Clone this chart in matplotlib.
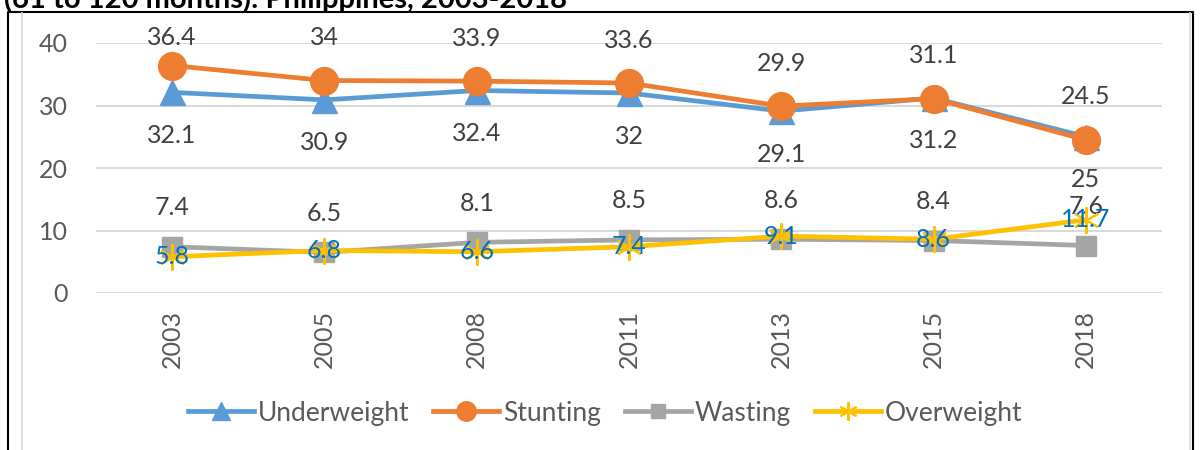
import matplotlib.pyplot as plt
from matplotlib.lines import Line2D

plt.rcParams['font.family'] = ['Lato', 'DejaVu Sans']

years = ['2003', '2005', '2008', '2011', '2013', '2015', '2018']
underweight = [32.1, 30.9, 32.4, 32, 29.1, 31.2, 25]
stunting = [36.4, 34, 33.9, 33.6, 29.9, 31.1, 24.5]
wasting = [7.4, 6.5, 8.1, 8.5, 8.6, 8.4, 7.6]
overweight = [5.8, 6.8, 6.6, 7.4, 9.1, 8.6, 11.7]

W, H = 1203, 450
fig = plt.figure(figsize=(W / 100, H / 100), dpi=100)
ax = fig.add_axes([96 / W, 1 - 293 / H, (1162 - 96) / W, 250 / H])

x = list(range(len(years)))
txt = '#404040'
blue_txt = '#0070C0'

ax.plot(x, underweight, color='#5B9BD5', lw=3.4, marker='^', ms=18, label='Underweight', zorder=3)
ax.plot(x, stunting, color='#ED7D31', lw=3.4, marker='o', ms=20, label='Stunting', zorder=4)
ax.plot(x, wasting, color='#A5A5A5', lw=3.4, marker='s', ms=15, label='Wasting', zorder=3)
ax.plot(x, overweight, color='#FFC000', lw=3.4, marker=(6, 2, 0), ms=19, mew=1.5,
        label='Overweight', zorder=4)

unit = 250 / 40  # pixels per data unit
fs = 18
for i in x:
    ax.text(i, min(stunting[i] + 43 / unit, 40.9), f'{stunting[i]:g}', ha='center', va='center',
            fontsize=fs, color=txt, clip_on=False)
    ax.text(i, underweight[i] - 43 / unit, f'{underweight[i]:g}', ha='center', va='center',
            fontsize=fs, color=txt, clip_on=False)
    ax.text(i, wasting[i] + 39 / unit, f'{wasting[i]:g}', ha='center', va='center',
            fontsize=fs, color=txt, clip_on=False)
    ax.text(i, overweight[i], f'{overweight[i]:g}', ha='center', va='center',
            fontsize=fs, color=blue_txt, clip_on=False, zorder=6)

ax.set_xlim(-0.5, len(years) - 0.5)
ax.set_ylim(0, 40)
ax.set_yticks([0, 10, 20, 30, 40])
ax.set_xticks(x)
ax.set_xticklabels(years, rotation=90)
ax.grid(axis='y', color='#D9D9D9', lw=1.5)
ax.set_axisbelow(True)
for s in ax.spines.values():
    s.set_visible(False)
ax.tick_params(axis='both', length=0, labelsize=18, colors='#595959')
ax.tick_params(axis='y', pad=20)
ax.tick_params(axis='x', pad=12)

fig.legend(loc='center', bbox_to_anchor=(605 / W, 1 - 413 / H), ncol=4, frameon=False,
           fontsize=19, handlelength=2.5, handletextpad=0.15, columnspacing=0.9,
           markerscale=0.7, labelcolor='#595959')

# frame around the chart
fig.add_artist(Line2D([8 / W, 8 / W, 1193 / W, 1193 / W], [0, 1 - 12 / H, 1 - 12 / H, 0],
                      color='black', lw=1.5))
fig.add_artist(Line2D([22 / W, 22 / W], [0, 1 - 13 / H], color='#D9D9D9', lw=1.2))
fig.add_artist(Line2D([1190 / W, 1190 / W], [0, 1 - 13 / H], color='#D9D9D9', lw=1.2))

fig.text(4 / W, 1 - 8 / H, '(61 to 120 months): Philippines, 2003-2018', fontsize=21,
         fontweight='bold', ha='left', va='baseline', color='black')

fig.savefig('out.png', dpi=100)
